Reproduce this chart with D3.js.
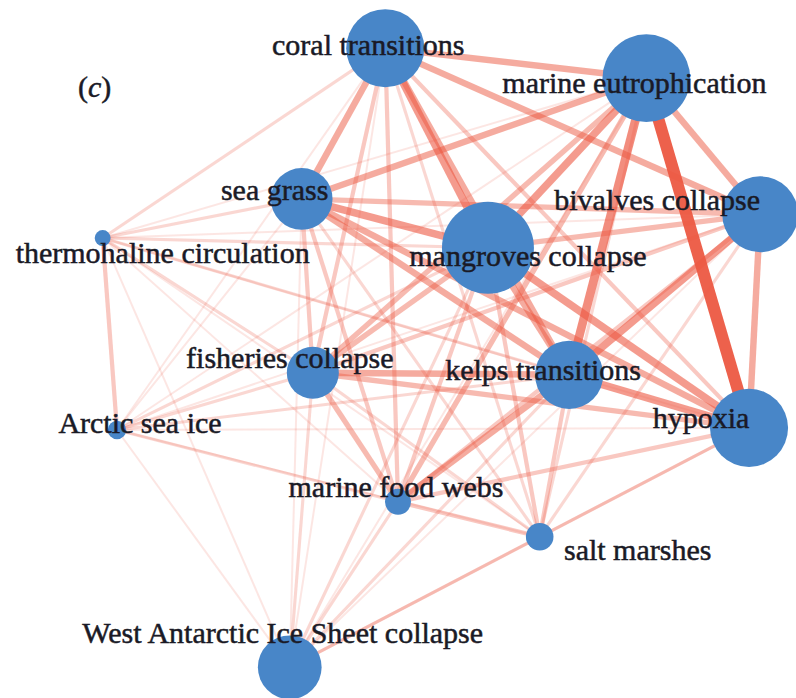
<!DOCTYPE html>
<html>
<head>
<meta charset="utf-8">
<script src="https://cdn.jsdelivr.net/npm/d3@7/dist/d3.min.js"></script>
</head>
<body style="margin:0">
<svg id="chart" width="796" height="698"></svg>
<script>
// ---------- data ----------
const nodeNames = [
  "coral transitions", "marine eutrophication", "sea grass", "thermohaline circulation",
  "mangroves collapse", "bivalves collapse", "fisheries collapse", "kelps transitions",
  "hypoxia", "Arctic sea ice", "marine food webs", "salt marshes",
  "West Antarctic Ice Sheet collapse"
];
// node importance (circle area)
const nodeSize = [72, 91, 45, 3, 100, 68, 32, 55, 72, 4, 8, 9, 48];
// layout coordinates (percent of panel)
const layoutX = [48.4, 81.2, 37.9, 12.9, 61.3, 95.5, 39.3, 71.5, 94.1, 14.7, 50.0, 67.8, 36.4];
const layoutY = [6.9, 11.2, 28.5, 34.1, 35.5, 30.7, 53.4, 53.7, 61.3, 61.6, 71.9, 76.9, 95.6];

// links: source index, target index, strength
const linkSource = [
  0,0,0,0,0,0,0,0,0,0,0,0,
  1,1,1,1,1,1,1,1,1,1,1,
  2,2,2,2,2,2,2,2,2,2,
  3,3,3,3,3,3,3,3,3,
  4,4,4,4,4,4,4,4,
  5,5,5,5,5,5,5,
  6,6,6,6,6,6,
  7,7,7,7,7,
  8,8,8,8,
  9,9,9,
  10,10,
  11
];
const linkTarget = [
  1,2,3,4,5,6,7,8,9,10,11,12,
  2,3,4,5,6,7,8,9,10,11,12,
  3,4,5,6,7,8,9,10,11,12,
  4,5,6,7,8,9,10,11,12,
  5,6,7,8,9,10,11,12,
  6,7,8,9,10,11,12,
  7,8,9,10,11,12,
  8,9,10,11,12,
  9,10,11,12,
  10,11,12,
  11,12,
  12
];
const linkWeight = [
  5,5,2,6,5,3,5,3,1,3,2,1,
  5,1,6,5,4,7,10,1,4,2,1,
  2,6,4,3,5,5,1,3,2,1,
  2,1,2,2,1,3,1,1,1,
  4,4,5,6,2,3,3,2,
  3,6,5,1,3,2,1,
  5,4,2,4,2,2,
  6,2,5,3,2,
  1,3,2,2,
  2,1,1,
  3,2,
  2
];

// label offsets relative to node (text centre, baseline)
const labelDX = [-17, -12, -27, 60, 40, -103, -23, -26, -48, 23, -2, 98, -7];
const labelDY = [7, 15, 1, 25, 18, -4, -5, 5, 0, 3, -5, 23, -24];

// ---------- drawing ----------
const W = 796, H = 698;
const svg = d3.select("#chart");

const x = d3.scaleLinear().domain([0, 100]).range([0, W]);
const y = d3.scaleLinear().domain([0, 100]).range([0, H]);
const r = d3.scaleSqrt().domain([0, 100]).range([0, 46]);
const strokeW = d3.scaleLinear().domain([1, 10]).range([2, 12]);
const strokeO = d3.scaleLinear().domain([1, 10]).range([0.15, 0.95]);

const nodes = nodeNames.map((n, i) => ({
  name: n, size: nodeSize[i], x: x(layoutX[i]), y: y(layoutY[i]),
  dx: labelDX[i], dy: labelDY[i]
}));
const links = linkSource.map((s, i) => ({ s: nodes[s], t: nodes[linkTarget[i]], w: linkWeight[i] }))
  .filter(l => l.w > 0)
  .sort((a, b) => a.w - b.w);

svg.append("g").selectAll("line").data(links).join("line")
  .attr("x1", d => d.s.x).attr("y1", d => d.s.y)
  .attr("x2", d => d.t.x).attr("y2", d => d.t.y)
  .attr("stroke", "#ec5842")
  .attr("stroke-opacity", d => strokeO(d.w))
  .attr("stroke-width", d => strokeW(d.w));

svg.append("g").selectAll("circle").data(nodes).join("circle")
  .attr("cx", d => d.x).attr("cy", d => d.y)
  .attr("r", d => r(d.size))
  .attr("fill", "#4886c8");

svg.append("g").selectAll("text").data(nodes).join("text")
  .attr("x", d => d.x + d.dx).attr("y", d => d.y + d.dy)
  .attr("text-anchor", "middle")
  .attr("font-family", "Liberation Serif")
  .style("font-family", '"Liberation Serif"')
  .style("font-size", "30px")
  .attr("fill", "#1a1a26")
  .attr("stroke", "#1a1a26")
  .attr("stroke-width", 0.5)
  .text(d => d.name);

const tag = svg.append("text")
  .attr("x", 78).attr("y", 97)
  .attr("font-family", "Liberation Serif")
  .style("font-family", '"Liberation Serif"')
  .style("font-size", "30px")
  .attr("fill", "#1a1a26")
  .attr("stroke", "#1a1a26")
  .attr("stroke-width", 0.5);
tag.append("tspan").text("(");
tag.append("tspan").style("font-style", "italic").text("c");
tag.append("tspan").text(")");
</script>
</body>
</html>
